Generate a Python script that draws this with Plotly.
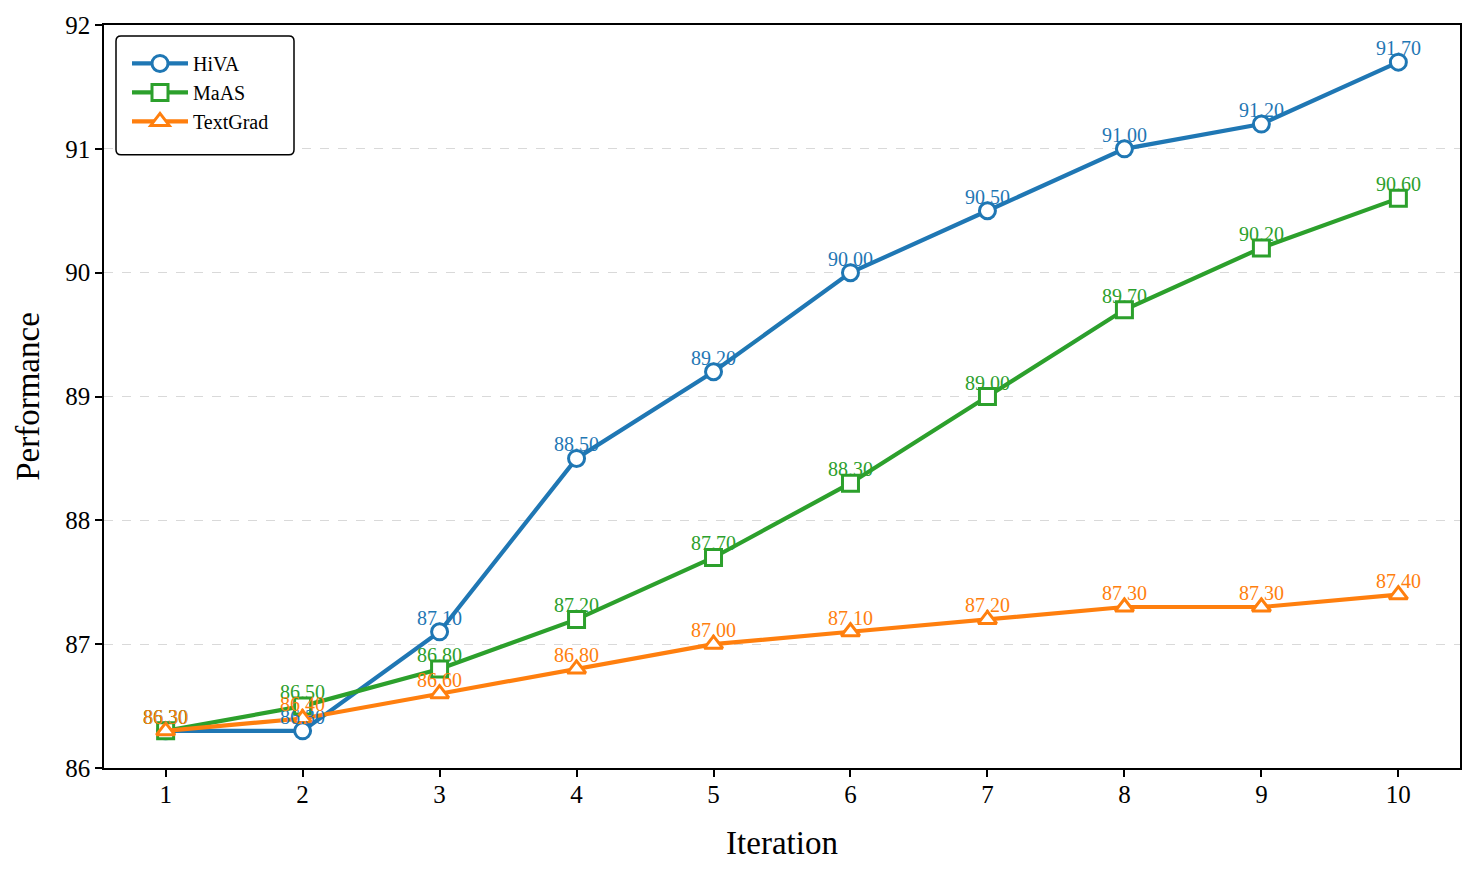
import plotly.graph_objects as go

iterations = [1, 2, 3, 4, 5, 6, 7, 8, 9, 10]
hiva = [86.3, 86.3, 87.1, 88.5, 89.2, 90.0, 90.5, 91.0, 91.2, 91.7]
maas = [86.3, 86.5, 86.8, 87.2, 87.7, 88.3, 89.0, 89.7, 90.2, 90.6]
textgrad = [86.3, 86.4, 86.6, 86.8, 87.0, 87.1, 87.2, 87.3, 87.3, 87.4]

series = [
    ("HiVA", hiva, "#1f77b4", "circle"),
    ("MaAS", maas, "#2ca02c", "square"),
    ("TextGrad", textgrad, "#ff7f0e", "triangle-up"),
]

FONT = "Liberation Serif, Times New Roman, serif"
W, H = 1477, 876
ML, MR, MT, MB = 104, 17, 23, 108
PW, PH = W - ML - MR, H - MT - MB


def px_x(p):
    return (p - ML) / PW


def px_y(p):
    return 1 - (p - MT) / PH


fig = go.Figure()
annotations = []
for name, vals, color, sym in series:
    fig.add_trace(go.Scatter(
        x=iterations, y=vals, name=name, mode="lines+markers",
        line=dict(color=color, width=4.2),
        marker=dict(symbol=sym, size=16, color="white",
                    line=dict(color=color, width=3)),
    ))
    for xv, yv in zip(iterations, vals):
        annotations.append(dict(
            x=xv, y=yv, xref="x", yref="y", text=f"{yv:.2f}", showarrow=False,
            yshift=14, font=dict(family=FONT, size=20, color=color),
        ))

# rounded legend frame
x0, x1 = px_x(116), px_x(294)
y0, y1 = px_y(153), px_y(34)
rx, ry = 5 / PW, 5 / PH
path = (f"M {x0+rx},{y1} L {x1-rx},{y1} Q {x1},{y1} {x1},{y1-ry} "
        f"L {x1},{y0+ry} Q {x1},{y0} {x1-rx},{y0} L {x0+rx},{y0} "
        f"Q {x0},{y0} {x0},{y0+ry} L {x0},{y1-ry} Q {x0},{y1} {x0+rx},{y1} Z")

fig.update_layout(
    width=W, height=H,
    margin=dict(l=ML, r=MR, t=MT, b=MB),
    paper_bgcolor="white", plot_bgcolor="white",
    font=dict(family=FONT, size=20, color="black"),
    annotations=annotations,
    shapes=[dict(type="path", path=path, xref="paper", yref="paper",
                 line=dict(color="black", width=1.5), fillcolor="white",
                 layer="above")],
    showlegend=True,
    legend=dict(
        x=px_x(127), y=px_y(42), xanchor="left", yanchor="top",
        bgcolor="rgba(0,0,0,0)", borderwidth=0,
        font=dict(family=FONT, size=20, color="black"),
        itemwidth=56, tracegroupgap=4,
    ),
    xaxis=dict(
        range=[0.55, 10.45], tickmode="array", tickvals=iterations,
        ticktext=[str(i) for i in iterations],
        showgrid=False, zeroline=False,
        showline=True, linecolor="black", linewidth=1.5, mirror=True,
        ticks="outside", ticklen=7, tickwidth=1.5, tickcolor="black",
        ticklabelstandoff=-4,
        tickfont=dict(family=FONT, size=25),
        title=dict(text="Iteration", font=dict(family=FONT, size=33), standoff=24),
    ),
    yaxis=dict(
        range=[86, 92], tickmode="array", tickvals=[86, 87, 88, 89, 90, 91, 92],
        showgrid=True, gridcolor="#d9d9d9", griddash="dash", gridwidth=1,
        zeroline=False,
        showline=True, linecolor="black", linewidth=1.5, mirror=True,
        ticks="outside", ticklen=7, tickwidth=1.5, tickcolor="black",
        tickfont=dict(family=FONT, size=25),
        title=dict(text="Performance", font=dict(family=FONT, size=33), standoff=16),
    ),
)

fig.write_html("out.html")
